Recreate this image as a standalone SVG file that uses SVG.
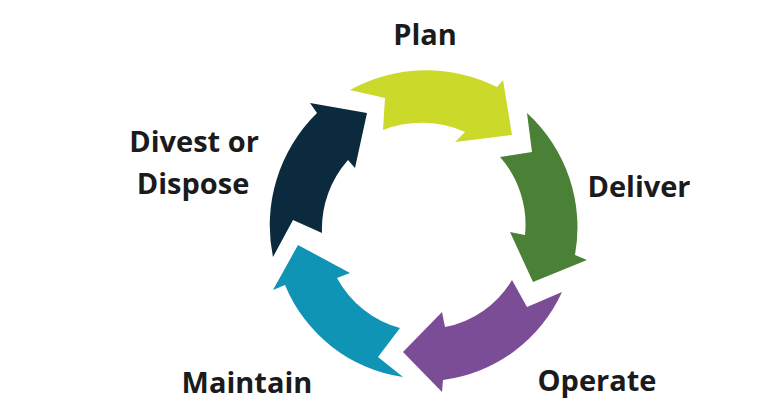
<svg xmlns="http://www.w3.org/2000/svg" width="784" height="418" viewBox="0 0 784 418">
<style>
.lbl{font-family:"Open Sans","Liberation Sans",sans-serif;font-weight:700;font-size:29px;fill:#1b1b1b;text-anchor:middle}
.plan{fill:#CBDA2A}
.deliver{fill:#4B8136}
.operate{fill:#7C4D97}
.maintain{fill:#0F94B5}
.divest{fill:#0C2A3D}
</style>
<rect width="784" height="418" fill="#ffffff"/>
<g id="cycle-arrows">
<g id="plan">
<path class="plan" d="M350,90 A158 158 0 0 1 497,87 L503,80 L512,135 L455,142 L465,132 A107 107 0 0 0 383,130 L385,98 Z"/>
<text class="lbl" x="425" y="45">Plan</text>
</g>
<g id="deliver">
<path class="deliver" d="M527,113 A155 155 0 0 1 575,255 L587,260 L533,282 L510,232 L525,235 A102 102 0 0 0 500,157 L532,152 Z"/>
<text class="lbl" x="639" y="197">Deliver</text>
</g>
<g id="operate">
<path class="operate" d="M562,292 A152 152 0 0 1 443,380 L442,392 L403,352 L442,312 L445,327 A100 100 0 0 0 512,280 L527,307 Z"/>
<text class="lbl" x="597" y="391">Operate</text>
</g>
<g id="maintain">
<path class="maintain" d="M403,377 A151 151 0 0 1 285,285 L273,290 L298,245 L350,273 L337,278 A102 102 0 0 0 400,328 L378,357 Z"/>
<text class="lbl" x="247" y="393">Maintain</text>
</g>
<g id="divest">
<path class="divest" d="M273,257 A157 157 0 0 1 317,113 L310,103 L367,113 L355,168 L348,160 A104 104 0 0 0 322,233 L293,220 Z"/>
<text class="lbl" x="194" y="152">Divest or</text>
<text class="lbl" x="193" y="194">Dispose</text>
</g>
</g>
</svg>
